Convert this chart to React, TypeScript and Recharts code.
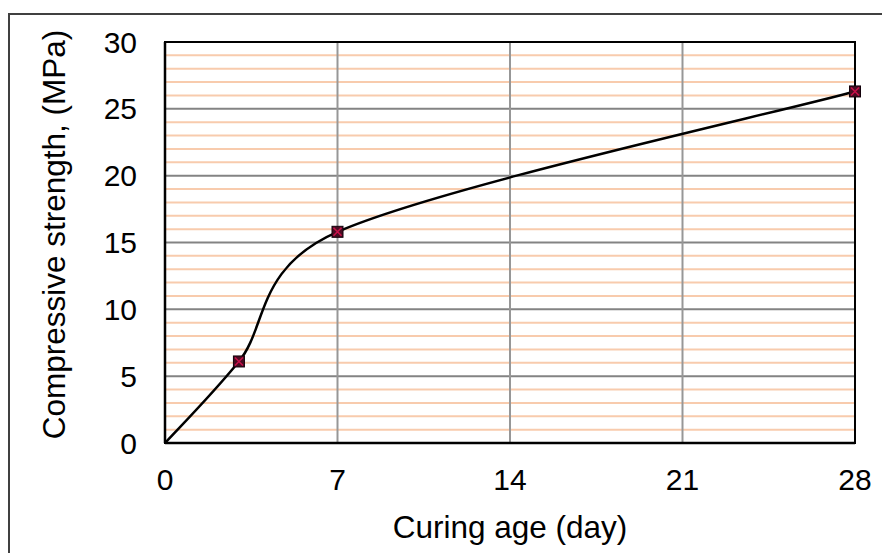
import React from 'react'
import {
  LineChart,
  Line,
  XAxis,
  YAxis,
  CartesianGrid,
  ReferenceArea,
  Label,
} from 'recharts'

const AGE_DAYS = [0, 3, 7, 28]
const STRENGTH_MPA = [0, 6.1, 15.8, 26.3]

const X_TICKS = [0, 7, 14, 21, 28]
const Y_LABEL_TICKS = [0, 5, 10, 15, 20, 25, 30]
// every 1 MPa gets a grid line, only every 5 gets a label
const Y_GRID_TICKS = Array.from({ length: 31 }, (_, i) => i)

const data = AGE_DAYS.map((age, i) => ({ age, strength: STRENGTH_MPA[i] }))

const FONT = '"Liberation Sans", Arial, sans-serif'

// Excel-style smoothed line: Catmull-Rom bezier with control arms clamped
const ARM_MAX = 0.55
function excelSmooth(context: any) {
  let pts: [number, number][] = []
  const clamp = (v: [number, number], limit: number): [number, number] => {
    const len = Math.hypot(v[0], v[1])
    if (len <= limit || len === 0) return v
    return [(v[0] * limit) / len, (v[1] * limit) / len]
  }
  return {
    areaStart() {},
    areaEnd() {},
    lineStart() {
      pts = []
    },
    point(x: number, y: number) {
      pts.push([+x, +y])
    },
    lineEnd() {
      const n = pts.length
      if (!n) return
      context.moveTo(pts[0][0], pts[0][1])
      for (let i = 0; i < n - 1; i++) {
        const p0 = pts[Math.max(i - 1, 0)]
        const p1 = pts[i]
        const p2 = pts[i + 1]
        const p3 = pts[Math.min(i + 2, n - 1)]
        const seg = Math.hypot(p2[0] - p1[0], p2[1] - p1[1])
        const a = clamp([(p2[0] - p0[0]) / 6, (p2[1] - p0[1]) / 6], ARM_MAX * seg)
        const b = clamp([(p3[0] - p1[0]) / 6, (p3[1] - p1[1]) / 6], ARM_MAX * seg)
        context.bezierCurveTo(
          p1[0] + a[0],
          p1[1] + a[1],
          p2[0] - b[0],
          p2[1] - b[1],
          p2[0],
          p2[1]
        )
      }
    },
  }
}

function Marker(props: any) {
  const { cx, cy, index } = props
  if (index === 0 || cx == null || cy == null) return <g key={`m-${index}`} />
  const h = 5.5
  const k = h - 1.5
  return (
    <g key={`m-${index}`}>
      <rect
        x={cx - h}
        y={cy - h}
        width={h * 2}
        height={h * 2}
        fill="#4a0c22"
        stroke="#12000a"
        strokeWidth={1}
      />
      <path
        d={`M${cx - k},${cy - k}L${cx + k},${cy + k}M${cx + k},${cy - k}L${cx - k},${cy + k}`}
        stroke="#c8104a"
        strokeWidth={1.6}
      />
    </g>
  )
}

function YTick(props: any) {
  const { x, y, payload } = props
  if (!Y_LABEL_TICKS.includes(payload.value)) return <g />
  return (
    <text
      x={x}
      y={y}
      dy="0.355em"
      textAnchor="end"
      fill="#000"
      fontSize={30}
      fontFamily={FONT}
    >
      {payload.value}
    </text>
  )
}

// grid rows: gray every 5 MPa, peach in between; edges left to the frame
function GridRow(props: any) {
  const { x1, x2, y1, y2, index } = props
  if (index === 0 || index === Y_GRID_TICKS.length - 1) return <g key={`h-${index}`} />
  const major = index % 5 === 0
  return (
    <line
      key={`h-${index}`}
      x1={x1}
      x2={x2}
      y1={y1}
      y2={y2}
      stroke={major ? '#838383' : '#f8cbad'}
      strokeWidth={2}
    />
  )
}

function GridCol(props: any) {
  const { x1, x2, y1, y2, index } = props
  if (index === 0 || index === X_TICKS.length - 1) return <g key={`v-${index}`} />
  return (
    <line
      key={`v-${index}`}
      x1={x1}
      x2={x2}
      y1={y1}
      y2={y2}
      stroke="#979797"
      strokeWidth={2}
    />
  )
}

export default function App() {
  return (
    <div
      style={{
        position: 'absolute',
        left: 8,
        top: 13,
        width: 872,
        height: 538,
        borderTop: '2px solid #404040',
        borderLeft: '2px solid #404040',
        background: '#fff',
      }}
    >
      <LineChart
        width={872}
        height={538}
        data={data}
        margin={{ top: 27, right: 27, bottom: 0, left: 0 }}
      >
        <CartesianGrid horizontal={GridRow} vertical={GridCol} />
        <XAxis
          dataKey="age"
          type="number"
          domain={[0, 28]}
          ticks={X_TICKS}
          interval={0}
          height={110}
          axisLine={{ stroke: '#000', strokeWidth: 2.5 }}
          tickLine={false}
          tickSize={0}
          tickMargin={26}
          tick={{ fill: '#000', fontSize: 30, fontFamily: FONT }}
        >
          <Label
            content={(p: any) => {
              const vb = p.viewBox
              return (
                <text
                  x={vb.x + vb.width / 2}
                  y={vb.y + 95}
                  textAnchor="middle"
                  fill="#000"
                  fontSize={31.5}
                  fontFamily={FONT}
                >
                  Curing age (day)
                </text>
              )
            }}
          />
        </XAxis>
        <YAxis
          type="number"
          domain={[0, 30]}
          ticks={Y_GRID_TICKS}
          interval={0}
          width={155}
          axisLine={{ stroke: '#000', strokeWidth: 2.5 }}
          tickLine={false}
          tickSize={0}
          tickMargin={28}
          tick={YTick}
        >
          <Label
            content={(p: any) => {
              const vb = p.viewBox
              const cx = 55
              const cy = vb.y + vb.height / 2 - 8
              return (
                <text
                  x={cx}
                  y={cy}
                  transform={`rotate(-90, ${cx}, ${cy})`}
                  textAnchor="middle"
                  fill="#000"
                  fontSize={31.5}
                  fontFamily={FONT}
                >
                  Compressive strength, (MPa)
                </text>
              )
            }}
          />
        </YAxis>
        <ReferenceArea
          x1={0}
          x2={28}
          y1={0}
          y2={30}
          fill="none"
          fillOpacity={0}
          stroke="#000"
          strokeWidth={2}
          ifOverflow="visible"
        />
        <Line
          dataKey="strength"
          type={excelSmooth as any}
          stroke="#000"
          strokeWidth={2.5}
          dot={Marker}
          activeDot={false}
          isAnimationActive={false}
        />
      </LineChart>
    </div>
  )
}
